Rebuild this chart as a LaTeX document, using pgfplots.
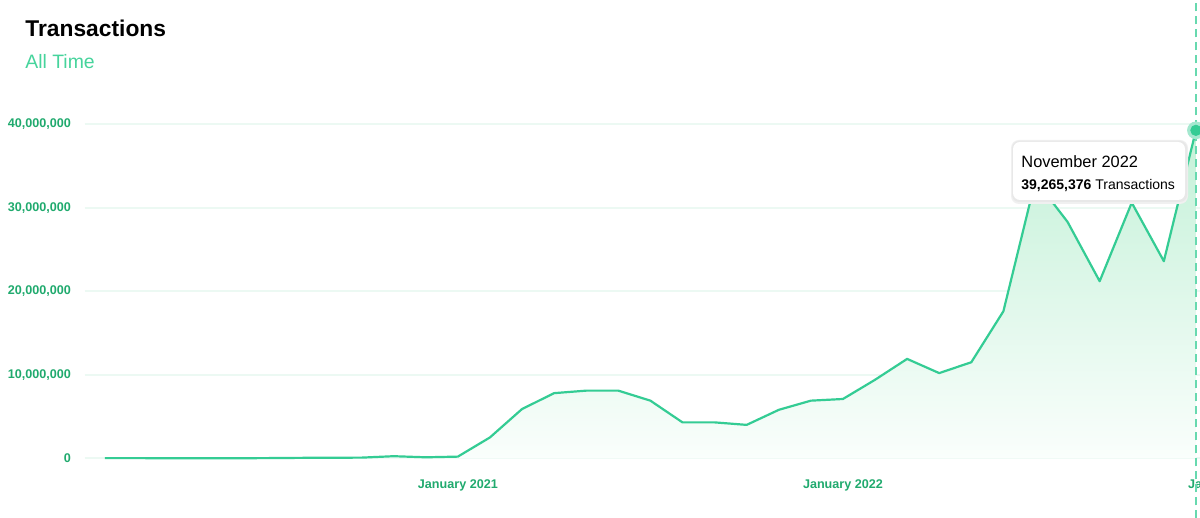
\documentclass[border=0pt]{standalone}
\usepackage{pgfplots}
\pgfplotsset{compat=1.18}
\usepackage{fontspec}
\setmainfont{Liberation Sans}
\definecolor{linec}{RGB}{52,204,148}
\definecolor{tickc}{RGB}{32,170,110}
\definecolor{subc}{RGB}{70,212,156}
\definecolor{gridc}{RGB}{236,249,243}
\definecolor{filltop}{RGB}{196,241,216}
\definecolor{fillbot}{RGB}{250,254,252}
\pgfplotstableread{
i v
0 20000
1 20000
2 10000
3 10000
4 10000
5 20000
6 50000
7 70000
8 80000
9 250000
10 120000
11 200000
12 2500000
13 5900000
14 7800000
15 8100000
16 8100000
17 6900000
18 4300000
19 4300000
20 4000000
21 5800000
22 6900000
23 7100000
24 9400000
25 11900000
26 10200000
27 11500000
28 17600000
29 33300000
30 28300000
31 21200000
32 30600000
33 23600000
34 39265376
}\datatable
\begin{document}
\begin{tikzpicture}
\useasboundingbox (0,0) rectangle (600pt,259pt);
\clip (0,0) rectangle (600pt,259pt);
\fill[white] (0,0) rectangle (600pt,259pt);
\begin{axis}[
  at={(42.5pt,29.85pt)}, anchor=south west,
  scale only axis, width=571.5pt, height=167.05pt,
  xmin=-0.62, xmax=35, ymin=0, ymax=40000000,
  clip=false,
  axis line style={draw=none},
  tick style={draw=none},
  ymajorgrids, major grid style={gridc, line width=0.8pt},
  ytick={0,10000000,20000000,30000000,40000000},
  yticklabels={\textbf{0},\textbf{10,000,000},\textbf{20,000,000},\textbf{30,000,000},\textbf{40,000,000}},
  xtick={11,23,35},
  xticklabels={\textbf{January 2021},\textbf{January 2022},\textbf{January 2023}},
  ticklabel style={font=\fontsize{6.3}{7}\selectfont, text=tickc},
  yticklabel style={xshift=-3.5pt},
  xticklabel style={yshift=-7pt},
  scaled y ticks=false,
]
\addplot[draw=none, top color=filltop, bottom color=fillbot] table[x=i,y=v]{\datatable} \closedcycle;
\addplot[linec, line width=1.1pt, line join=round] table[x=i,y=v]{\datatable};
\draw[linec!75, line width=0.9pt, dash pattern=on 4pt off 2.5pt] (axis cs:34,-7200000) -- (axis cs:34,55000000);
\addplot[only marks, color=linec!45, mark=*, mark size=4.2pt, mark options={solid, fill=linec!45, draw=linec!45}] coordinates {(34,39265376)};
\addplot[only marks, color=linec, mark=*, mark size=2.6pt, mark options={solid, fill=linec, draw=linec}] coordinates {(34,39265376)};
\end{axis}
% tooltip
\fill[black!6, rounded corners=4pt] (505.5pt,157pt) rectangle (594pt,189pt);
\fill[black!9, rounded corners=3.5pt] (506pt,158pt) rectangle (593.5pt,188.5pt);
\fill[white, rounded corners=3.5pt] (506.5pt,159pt) rectangle (592.5pt,188pt);
\node[anchor=base west, inner sep=0pt, font=\fontsize{8.2}{9}\selectfont] at (510.5pt,175pt) {November 2022};
\node[anchor=base west, inner sep=0pt, font=\fontsize{7}{8}\selectfont] at (510.5pt,164pt) {\textbf{39,265,376} Transactions};
% titles
\node[anchor=base west, inner sep=0pt, font=\fontsize{11.4}{13}\selectfont\bfseries] at (12.5pt,240.5pt) {Transactions};
\node[anchor=base west, inner sep=0pt, font=\fontsize{9.7}{11}\selectfont, text=subc] at (12.5pt,224.5pt) {All Time};
\end{tikzpicture}
\end{document}
